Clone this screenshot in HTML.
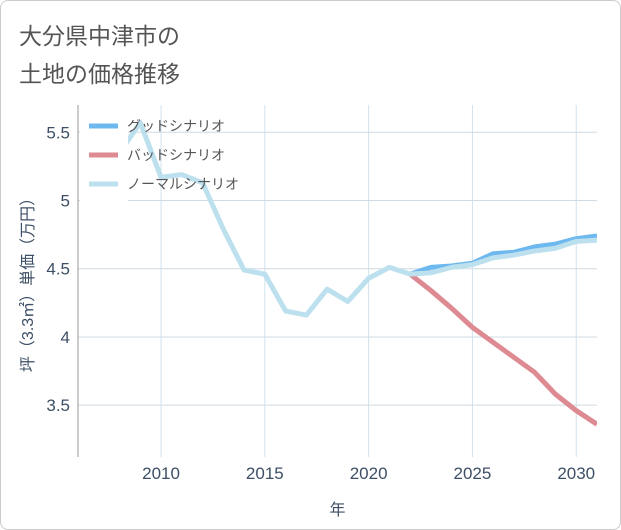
<!DOCTYPE html>
<html><head><meta charset="utf-8"><style>
body{margin:0;background:#fff;}
#c{position:relative;width:619px;height:528px;border:1px solid #ccc;border-radius:8px;background:#fff;font-family:"Liberation Sans","Noto Sans CJK JP",sans-serif;overflow:hidden}
.t{position:absolute;left:18px;color:#555;font-size:23px;}
</style></head><body>
<div id="c">
<div class="t" style="top:16px">大分県中津市の</div>
<div class="t" style="top:54px">土地の価格推移</div>
<svg id="s" width="621" height="530" style="position:absolute;left:-1px;top:-1px"></svg>
</div>
<script>
const years=[2008,2009,2010,2011,2012,2013,2014,2015,2016,2017,2018,2019,2020,2021,2022,2023,2024,2025,2026,2027,2028,2029,2030,2031];
const normal=[5.35,5.57,5.17,5.19,5.13,4.79,4.49,4.46,4.19,4.16,4.35,4.26,4.43,4.51,4.46,4.47,4.51,4.53,4.58,4.60,4.63,4.65,4.70,4.71];
const futYears=[2022,2023,2024,2025,2026,2027,2028,2029,2030,2031];
const good=[4.46,4.51,4.52,4.54,4.61,4.62,4.66,4.68,4.72,4.74];
const bad=[4.46,4.34,4.21,4.07,3.96,3.85,3.74,3.58,3.46,3.36];
const xTicks=[2010,2015,2020,2025,2030];
const yTicks=[3.5,4,4.5,5,5.5];
const L=78,R=597,T=105,B=457,x0=2006,x1=2031,y0=3.12,y1=5.70;
const X=v=>L+(v-x0)/(x1-x0)*(R-L), Y=v=>B-(v-y0)/(y1-y0)*(B-T);
const s=document.getElementById('s'),NS='http://www.w3.org/2000/svg';
const TC='#3d4f66';
function mk(t,a,p){const e=document.createElementNS(NS,t);for(const k in a)e.setAttribute(k,a[k]);(p||s).appendChild(e);return e;}
xTicks.forEach(v=>{const g=mk('line',{x1:X(v),x2:X(v),y1:T,y2:B,stroke:'#cfe3ee','stroke-width':1});

const t=mk('text',{x:X(v),y:B+22,'text-anchor':'middle','font-size':17,fill:TC});t.textContent=v;
});
yTicks.forEach(v=>{const g=mk('line',{x1:L,x2:R,y1:Y(v),y2:Y(v),stroke:'#d0dbe3','stroke-width':1});

const t=mk('text',{x:L-8,y:Y(v)+6,'text-anchor':'end','font-size':17,fill:TC});t.textContent=v;
});
const ax=mk('line',{x1:L,x2:L,y1:T,y2:B,stroke:'#999','stroke-width':1});

const cp=mk('clipPath',{id:'cl'});mk('rect',{x:L,y:T,width:R-L,height:B-T},cp);
const gg=mk('g',{'clip-path':'url(#cl)'});
function line2(xs,vs,c,n){const p=mk('polyline',{points:xs.map((x,i)=>X(x)+','+Y(vs[i])).join(' '),fill:'none',stroke:c,'stroke-width':5,'stroke-linejoin':'round'},gg);
}
line2(futYears,bad,'#de8a92','bad-scenario-line');
line2(futYears,good,'#6cb8ef','good-scenario-line');
line2(years,normal,'#bde0ee','normal-scenario-line');
const lb=mk('rect',{x:80,y:112,width:48,height:90,fill:'#fff'});

[['グッドシナリオ','#6cb8ef'],['バッドシナリオ','#de8a92'],['ノーマルシナリオ','#bde0ee']].forEach((d,i)=>{
const y=126+i*29;const l=mk('line',{x1:89,x2:118,y1:y,y2:y,stroke:d[1],'stroke-width':5});

const t=mk('text',{x:127,y:y+5,'font-size':14,fill:'#555'});t.textContent=d[0];
});
const xt=mk('text',{x:(L+R)/2,y:B+58,'text-anchor':'middle','font-size':16,fill:TC});xt.textContent='年';

const yt=mk('text',{x:0,y:0,'text-anchor':'middle','font-size':16,fill:TC,transform:`translate(33,${(T+B)/2}) rotate(-90)`});yt.textContent='坪（3.3㎡）単価（万円）';

</script>
</body></html>
